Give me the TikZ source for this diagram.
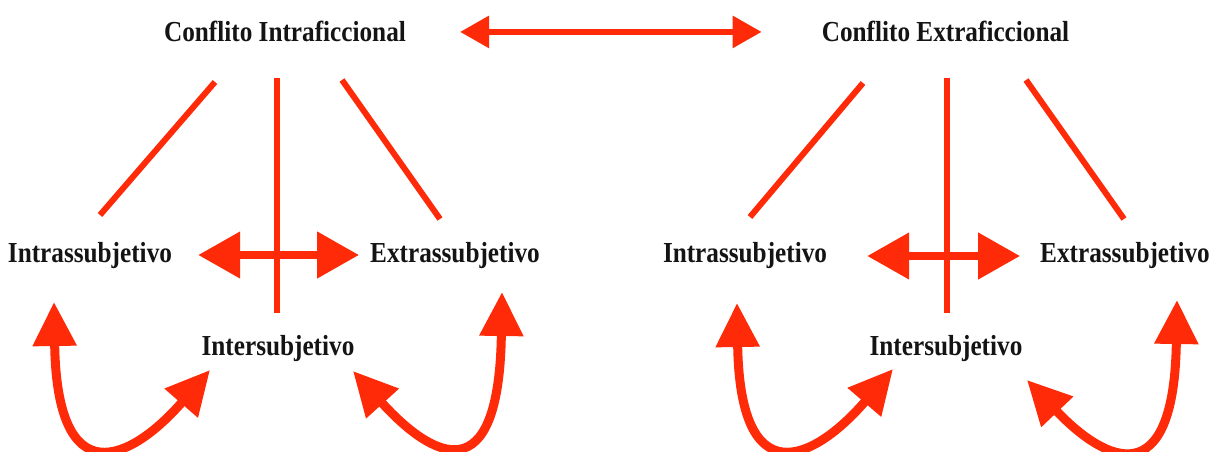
\documentclass[tikz,border=0pt]{standalone}
\usepackage{fontspec}
\newfontfamily\timesfont{Liberation Serif}[FakeStretch=0.87]
\usetikzlibrary{arrows.meta}
\definecolor{conred}{RGB}{255,42,8}

\begin{document}
\begin{tikzpicture}[
  x=1pt, y=-1pt,
  lbl/.style={anchor=base, inner sep=0pt, text=black!92,
              font=\timesfont\bfseries\fontsize{29}{32}\selectfont},
  edge/.style={draw=conred, line width=6pt},
  link/.style={draw=conred, line width=6pt,
               {Triangle[length=29pt,width=31pt]}-{Triangle[length=29pt,width=31pt]}},
  cross/.style={draw=conred, line width=8pt,
                {Triangle[length=42pt,width=45pt]}-{Triangle[length=42pt,width=45pt]}},
  swing/.style={draw=conred, line width=9pt,
                {Triangle[length=44pt,width=42pt]}-{Triangle[length=44pt,width=42pt]}}
]
\useasboundingbox (0,0) rectangle (1218,452);

\node[lbl] (conflI) at (285,42) {Conflito Intraficcional};
\node[lbl] (conflE) at (945.5,42) {Conflito Extraficcional};
\draw[link, shorten <=54pt, shorten >=60pt] (conflI.east) -- (conflE.west);

% left group
\node[lbl] (intraL) at (90,262) {Intrassubjetivo};
\node[lbl] (extraL) at (455,262) {Extrassubjetivo};
\node[lbl] (interL) at (278,355) {Intersubjetivo};
\coordinate (lA1) at (215,82);  \coordinate (lA2) at (100,215);
\coordinate (lB1) at (277,78);  \coordinate (lB2) at (277,313);
\coordinate (lC1) at (342,80);  \coordinate (lC2) at (440,219);
\draw[edge] (lA1) -- (lA2);
\draw[edge] (lC1) -- (lC2);
\draw[cross, shorten <=26pt, shorten >=11pt] ([yshift=7pt]intraL.base east) -- ([yshift=7pt]extraL.base west);
\draw[edge] (lB1) -- (lB2);
\coordinate (lUp1) at (54,302);   \coordinate (lTo1) at (210,370);
\coordinate (lUp2) at (502,292);  \coordinate (lTo2) at (353,371);
\draw[swing] (lUp1) .. controls (57,495) and (130,462) .. (lTo1);
\draw[swing] (lUp2) .. controls (499,495) and (432,458) .. (lTo2);

% right group
\node[lbl] (intraR) at (745,262) {Intrassubjetivo};
\node[lbl] (extraR) at (1125,262) {Extrassubjetivo};
\node[lbl] (interR) at (946,355) {Intersubjetivo};
\coordinate (rA1) at (863,83);   \coordinate (rA2) at (750,217);
\coordinate (rB1) at (947,78);   \coordinate (rB2) at (947,313);
\coordinate (rC1) at (1026,80);  \coordinate (rC2) at (1124,219);
\draw[edge] (rA1) -- (rA2);
\draw[edge] (rC1) -- (rC2);
\draw[cross, shorten <=40pt, shorten >=20pt] ([yshift=6pt]intraR.base east) -- ([yshift=6pt]extraR.base west);
\draw[edge] (rB1) -- (rB2);
\coordinate (rUp1) at (737,303);   \coordinate (rTo1) at (893,369);
\coordinate (rUp2) at (1177,300);  \coordinate (rTo2) at (1027,380);
\draw[swing] (rUp1) .. controls (740,495) and (813,462) .. (rTo1);
\draw[swing] (rUp2) .. controls (1174,495) and (1106,463) .. (rTo2);
\end{tikzpicture}
\end{document}
